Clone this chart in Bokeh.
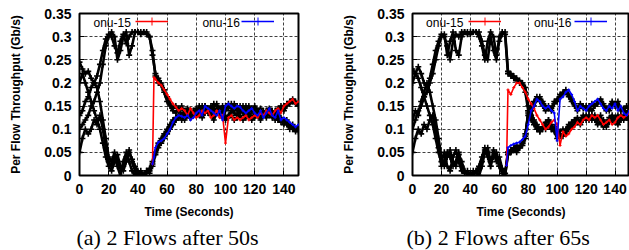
from bokeh.plotting import figure
from bokeh.models import FixedTicker, Legend, LegendItem, Label, Title, Range1d
from bokeh.layouts import row
from bokeh.embed import file_html
from bokeh.resources import INLINE

# ---------------- data ----------------
time_s = list(range(0, 151, 2))
x_ticks = [0, 20, 40, 60, 80, 100, 120, 140]
y_ticks = [0, 0.05, 0.1, 0.15, 0.2, 0.25, 0.3, 0.35]
y_tick_labels = ["0", "0.05", "0.1", "0.15", "0.2", "0.25", "0.3", "0.35"]

# (a) background flows (black)
a_h1 = [0.245, 0.23, 0.22, 0.225, 0.21, 0.2, 0.215, 0.24, 0.27, 0.295,
        0.305, 0.3, 0.28, 0.265, 0.29, 0.305, 0.285, 0.3, 0.31, 0.31,
        0.31, 0.31, 0.31, 0.305, 0.3, 0.27, 0.215, 0.21, 0.2, 0.185,
        0.17, 0.155, 0.145, 0.15, 0.14, 0.15, 0.135, 0.145, 0.14, 0.135,
        0.145, 0.13, 0.14, 0.15, 0.135, 0.14, 0.13, 0.145, 0.135, 0.14,
        0.125, 0.13, 0.14, 0.135, 0.13, 0.14, 0.135, 0.13, 0.14, 0.125,
        0.135, 0.14, 0.13, 0.135, 0.14, 0.145, 0.14, 0.135, 0.145, 0.15,
        0.15, 0.155, 0.16, 0.165, 0.16, 0.155]
a_h2 = [0.1, 0.11, 0.12, 0.13, 0.15, 0.16, 0.18, 0.2, 0.24, 0.28,
        0.3, 0.31, 0.3, 0.25, 0.27, 0.3, 0.31, 0.26, 0.28, 0.31,
        0.31, 0.305, 0.31, 0.31, 0.3, 0.26, 0.22, 0.2, 0.195, 0.18,
        0.16, 0.15, 0.14, 0.135, 0.145, 0.13, 0.14, 0.13, 0.125, 0.14,
        0.13, 0.14, 0.125, 0.135, 0.14, 0.13, 0.12, 0.135, 0.13, 0.125,
        0.12, 0.125, 0.13, 0.12, 0.125, 0.13, 0.12, 0.125, 0.13, 0.12,
        0.125, 0.13, 0.12, 0.13, 0.125, 0.135, 0.13, 0.14, 0.135, 0.145,
        0.14, 0.15, 0.155, 0.16, 0.155, 0.15]
a_l1 = [0.2, 0.22, 0.2, 0.18, 0.16, 0.14, 0.12, 0.1, 0.07, 0.04,
        0.02, 0.01, 0.03, 0.045, 0.02, 0.01, 0.03, 0.05, 0.035, 0.02,
        0.01, 0.005, 0.0, 0.005, 0.01, 0.02, 0.045, 0.06, 0.075, 0.085,
        0.095, 0.105, 0.115, 0.12, 0.125, 0.13, 0.12, 0.13, 0.125, 0.135,
        0.13, 0.14, 0.135, 0.145, 0.14, 0.15, 0.145, 0.14, 0.135, 0.145,
        0.15, 0.145, 0.155, 0.15, 0.145, 0.14, 0.15, 0.145, 0.14, 0.145,
        0.14, 0.135, 0.14, 0.13, 0.135, 0.14, 0.13, 0.125, 0.12, 0.125,
        0.115, 0.12, 0.11, 0.105, 0.1, 0.105]
a_l2 = [0.05, 0.08, 0.1, 0.09, 0.1, 0.12, 0.11, 0.13, 0.1, 0.06,
        0.03, 0.02, 0.04, 0.02, 0.0, 0.03, 0.05, 0.03, 0.01, 0.0,
        0.005, 0.01, 0.0, 0.01, 0.015, 0.03, 0.05, 0.07, 0.08, 0.09,
        0.1, 0.11, 0.12, 0.125, 0.13, 0.12, 0.13, 0.14, 0.13, 0.14,
        0.135, 0.15, 0.14, 0.15, 0.14, 0.145, 0.155, 0.15, 0.145, 0.15,
        0.145, 0.155, 0.15, 0.14, 0.15, 0.145, 0.14, 0.15, 0.145, 0.14,
        0.145, 0.14, 0.135, 0.14, 0.13, 0.135, 0.125, 0.13, 0.12, 0.115,
        0.12, 0.11, 0.105, 0.1, 0.095, 0.1]
a_m1 = [0.13, 0.14, 0.16, 0.17, 0.19, 0.2, 0.19, 0.16, 0.12, 0.08,
        0.04, 0.03, 0.05, 0.03, 0.015, 0.02, 0.04, 0.055, 0.03, 0.01,
        0.0, 0.005, 0.0, 0.01, 0.005, 0.025, 0.05, 0.065, 0.07, 0.08,
        0.09, 0.1, 0.11, 0.12, 0.13, 0.125, 0.135, 0.13, 0.14, 0.13,
        0.14, 0.145, 0.15, 0.14, 0.145, 0.14, 0.15, 0.155, 0.14, 0.145,
        0.14, 0.15, 0.145, 0.155, 0.14, 0.15, 0.145, 0.14, 0.15, 0.14,
        0.15, 0.14, 0.145, 0.135, 0.14, 0.13, 0.135, 0.12, 0.13, 0.12,
        0.11, 0.115, 0.1, 0.11, 0.1, 0.095]

# (a) onu-15 / onu-16 (join at 50 s)
a_t_new = [50, 51] + list(range(52, 151, 2))
a_onu15 = [0.025, 0.212,
           0.208, 0.2, 0.195, 0.185, 0.175, 0.165, 0.155, 0.148, 0.14, 0.145,
           0.14, 0.13, 0.145, 0.135, 0.125, 0.13, 0.14, 0.135, 0.14, 0.125,
           0.13, 0.14, 0.125, 0.13, 0.07, 0.125, 0.13, 0.12, 0.125, 0.12,
           0.125, 0.13, 0.12, 0.125, 0.13, 0.125, 0.135, 0.13, 0.14, 0.135,
           0.13, 0.14, 0.145, 0.135, 0.15, 0.155, 0.16, 0.165, 0.155, 0.16]
a_onu16 = [0.025, 0.04,
           0.06, 0.072, 0.075, 0.08, 0.09, 0.1, 0.115, 0.125, 0.13, 0.128,
           0.125, 0.13, 0.12, 0.125, 0.135, 0.14, 0.13, 0.15, 0.145, 0.14,
           0.135, 0.13, 0.14, 0.12, 0.15, 0.155, 0.15, 0.145, 0.15, 0.148,
           0.14, 0.135, 0.14, 0.145, 0.135, 0.13, 0.14, 0.125, 0.135, 0.145,
           0.13, 0.125, 0.14, 0.12, 0.125, 0.12, 0.115, 0.11, 0.105, 0.11]

# (b) background flows (black)
b_h1 = [0.23, 0.22, 0.235, 0.22, 0.2, 0.19, 0.21, 0.24, 0.27, 0.29,
        0.305, 0.3, 0.28, 0.25, 0.29, 0.305, 0.3, 0.31, 0.31, 0.305,
        0.31, 0.31, 0.31, 0.3, 0.28, 0.25, 0.29, 0.31, 0.3, 0.26,
        0.29, 0.305, 0.31, 0.225, 0.22, 0.215, 0.21, 0.205, 0.2, 0.19,
        0.15, 0.14, 0.15, 0.165, 0.17, 0.16, 0.15, 0.145, 0.14, 0.155,
        0.165, 0.17, 0.175, 0.18, 0.17, 0.16, 0.15, 0.145, 0.155, 0.15,
        0.145, 0.15, 0.14, 0.15, 0.155, 0.16, 0.15, 0.145, 0.14, 0.155,
        0.15, 0.16, 0.145, 0.14, 0.15, 0.14]
b_h2 = [0.1, 0.12, 0.14, 0.15, 0.17, 0.18, 0.2, 0.22, 0.25, 0.28,
        0.3, 0.305, 0.26, 0.29, 0.31, 0.27, 0.26, 0.3, 0.31, 0.31,
        0.305, 0.31, 0.31, 0.31, 0.29, 0.26, 0.25, 0.3, 0.27, 0.25,
        0.3, 0.31, 0.305, 0.22, 0.215, 0.21, 0.205, 0.2, 0.195, 0.18,
        0.14, 0.15, 0.16, 0.17, 0.16, 0.15, 0.14, 0.15, 0.145, 0.16,
        0.16, 0.175, 0.18, 0.185, 0.175, 0.165, 0.155, 0.14, 0.15, 0.145,
        0.15, 0.14, 0.155, 0.15, 0.16, 0.165, 0.155, 0.14, 0.15, 0.16,
        0.155, 0.15, 0.14, 0.145, 0.135, 0.14]
b_l1 = [0.2, 0.22, 0.21, 0.19, 0.17, 0.15, 0.13, 0.11, 0.08, 0.05,
        0.03, 0.05, 0.02, 0.01, 0.04, 0.055, 0.03, 0.01, 0.005, 0.01,
        0.0, 0.005, 0.01, 0.0, 0.02, 0.05, 0.06, 0.03, 0.04, 0.05,
        0.02, 0.01, 0.0, 0.05, 0.055, 0.06, 0.055, 0.06, 0.065, 0.08,
        0.14, 0.13, 0.12, 0.11, 0.1, 0.105, 0.115, 0.12, 0.11, 0.1,
        0.09, 0.095, 0.1, 0.09, 0.105, 0.11, 0.12, 0.115, 0.12, 0.13,
        0.125, 0.12, 0.13, 0.125, 0.12, 0.13, 0.11, 0.105, 0.115, 0.12,
        0.125, 0.13, 0.12, 0.125, 0.13, 0.135]
b_l2 = [0.05, 0.08, 0.1, 0.09, 0.11, 0.1, 0.12, 0.13, 0.1, 0.06,
        0.02, 0.03, 0.05, 0.04, 0.02, 0.03, 0.05, 0.02, 0.01, 0.0,
        0.005, 0.0, 0.01, 0.02, 0.04, 0.06, 0.05, 0.02, 0.05, 0.03,
        0.04, 0.015, 0.005, 0.05, 0.05, 0.055, 0.05, 0.06, 0.07, 0.09,
        0.13, 0.12, 0.11, 0.1, 0.095, 0.1, 0.11, 0.12, 0.1, 0.105,
        0.095, 0.085, 0.09, 0.1, 0.11, 0.115, 0.12, 0.125, 0.11, 0.12,
        0.13, 0.125, 0.12, 0.13, 0.125, 0.115, 0.12, 0.11, 0.125, 0.13,
        0.12, 0.11, 0.12, 0.13, 0.125, 0.13]
b_m1 = [0.12, 0.14, 0.13, 0.16, 0.18, 0.2, 0.18, 0.15, 0.12, 0.08,
        0.04, 0.02, 0.04, 0.055, 0.03, 0.02, 0.045, 0.03, 0.01, 0.005,
        0.0, 0.01, 0.005, 0.015, 0.03, 0.055, 0.04, 0.02, 0.055, 0.04,
        0.02, 0.005, 0.0, 0.045, 0.05, 0.06, 0.065, 0.06, 0.07, 0.085,
        0.135, 0.14, 0.115, 0.1, 0.095, 0.105, 0.1, 0.11, 0.1, 0.095,
        0.08, 0.09, 0.085, 0.095, 0.1, 0.105, 0.11, 0.12, 0.115, 0.125,
        0.12, 0.13, 0.125, 0.12, 0.11, 0.115, 0.105, 0.115, 0.12, 0.125,
        0.115, 0.12, 0.13, 0.12, 0.125, 0.12]

# (b) onu-15 / onu-16 (join at 65 s)
b_t_new = [65, 66] + list(range(68, 151, 2))
b_onu15 = [0.022, 0.185,
           0.175, 0.19, 0.2, 0.2, 0.19, 0.18, 0.165, 0.155, 0.145, 0.13,
           0.12, 0.11, 0.1, 0.105, 0.115, 0.12, 0.11, 0.065, 0.095, 0.085,
           0.09, 0.1, 0.105, 0.115, 0.11, 0.12, 0.125, 0.12, 0.13, 0.125,
           0.13, 0.12, 0.11, 0.115, 0.12, 0.11, 0.115, 0.125, 0.13, 0.125,
           0.13, 0.135]
b_onu16 = [0.022, 0.06,
           0.065, 0.068, 0.07, 0.072, 0.078, 0.085, 0.11, 0.14, 0.15, 0.165,
           0.16, 0.15, 0.145, 0.15, 0.14, 0.135, 0.075, 0.165, 0.17, 0.18,
           0.185, 0.175, 0.16, 0.14, 0.15, 0.145, 0.14, 0.15, 0.155, 0.16,
           0.165, 0.155, 0.145, 0.14, 0.15, 0.145, 0.155, 0.14, 0.15, 0.135,
           0.13, 0.14]

FONT = "Liberation Sans"


def make_panel(blacks, t_new, onu15, onu16, caption, width, border_left,
               border_right, cap_offset):
    p = figure(width=width, height=250, output_backend="svg",
               toolbar_location=None, x_range=Range1d(0, 150),
               y_range=Range1d(0, 0.35), min_border_left=border_left,
               min_border_right=border_right, min_border_top=13,
               min_border_bottom=73)
    p.background_fill_color = "white"
    p.outline_line_color = "black"
    p.outline_line_width = 2
    p.outline_line_alpha = 1

    for ys in blacks:
        p.line(time_s, ys, line_color="black", line_width=2.6)
        p.scatter(time_s, ys, marker="cross", size=6, line_color="black",
                  line_width=1.6)

    r15 = p.line(t_new, onu15, line_color="#ff0000", line_width=1.6)
    s15 = p.scatter(t_new, onu15, marker="cross", size=3,
                    line_color="#ff0000", line_width=1)
    r16 = p.line(t_new, onu16, line_color="#0000ff", line_width=1.6)
    s16 = p.scatter(t_new, onu16, marker="cross", size=3,
                    line_color="#0000ff", line_width=1)

    for ax in (p.xaxis[0], p.yaxis[0]):
        ax.axis_line_color = None
        ax.major_tick_in = 5
        ax.major_tick_out = 0
        ax.minor_tick_line_color = None
        ax.major_tick_line_color = "black"
        ax.major_label_text_font = FONT
        ax.major_label_text_font_style = "bold"
        ax.major_label_text_font_size = "14px"
        ax.major_label_text_color = "black"
        ax.axis_label_text_font = FONT
        ax.axis_label_text_font_style = "bold"
        ax.axis_label_text_font_size = "12px"
        ax.axis_label_text_color = "black"

    p.xaxis.ticker = FixedTicker(ticks=x_ticks)
    p.yaxis.ticker = FixedTicker(ticks=y_ticks)
    p.yaxis.major_label_overrides = {t: s for t, s in zip(y_ticks, y_tick_labels)}
    p.xaxis.axis_label = "Time (Seconds)"
    p.yaxis.axis_label = "Per Flow Throughput (Gb/s)"
    p.xaxis.major_label_standoff = 8
    p.xaxis.axis_label_standoff = 8
    p.yaxis.major_label_standoff = 8
    p.yaxis.axis_label_standoff = 18

    for g in (p.xgrid[0], p.ygrid[0]):
        g.grid_line_color = "black"
        g.grid_line_alpha = 0.75
        g.grid_line_dash = "3 2"
        g.grid_line_width = 1

    legend = Legend(items=[LegendItem(label="", renderers=[r15, s15]),
                           LegendItem(label="", renderers=[r16, s16])],
                    orientation="horizontal", location=(56, 144),
                    glyph_width=33, glyph_height=20, label_width=0,
                    label_standoff=0, spacing=73, padding=0, margin=0,
                    background_fill_alpha=0, border_line_alpha=0)
    p.add_layout(legend, "center")
    for txt, xpos in (("onu-15", 35.2), ("onu-16", 109.8)):
        p.add_layout(Label(x=xpos, y=0.3285, text=txt, text_align="right",
                           text_baseline="middle", text_font=FONT,
                           text_font_size="12px", text_color="black"))

    cap = Title(text=caption, align="left", offset=cap_offset, standoff=2,
                text_font="Liberation Serif", text_font_style="normal",
                text_font_size="22px", text_color="black")
    p.add_layout(cap, "below")
    return p


pa = make_panel([a_h1, a_h2, a_l1, a_l2, a_m1], a_t_new, a_onu15, a_onu16,
                "(a) 2 Flows after 50s", 339, 79, 41, -3)
pb = make_panel([b_h1, b_h2, b_l1, b_l2, b_m1], b_t_new, b_onu15, b_onu16,
                "(b) 2 Flows after 65s", 290, 71, 0, -6)

layout = row(pa, pb)
open("out.html", "w").write(file_html(layout, INLINE))
